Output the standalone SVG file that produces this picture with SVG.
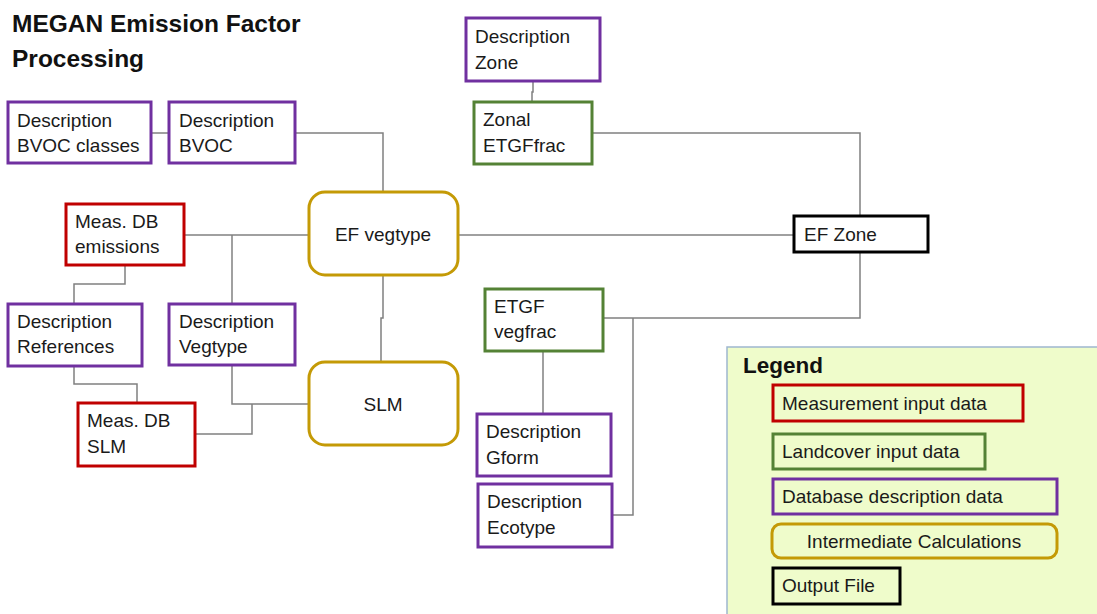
<svg xmlns="http://www.w3.org/2000/svg" width="1097" height="614" viewBox="0 0 1097 614">
<style>
text{font-family:"Liberation Sans",Arial,sans-serif;font-size:19px;fill:#1a1a1a}
.t{font-size:24.5px;font-weight:bold;fill:#111}
.lg{font-size:22.5px;font-weight:bold;fill:#111}
rect{fill:#fff;stroke-width:3}
.p{stroke:#7030a0}.r{stroke:#c00000}.g{stroke:#548235}.y{stroke:#c49a06}.k{stroke:#000}
#conn path{fill:none;stroke:#808080;stroke-width:1.5}
</style>
<rect x="0" y="0" width="1097" height="614" style="fill:#fff;stroke:none"/>
<text class="t" x="12" y="32">MEGAN Emission Factor</text>
<text class="t" x="12" y="67">Processing</text>
<g id="conn">
<path d="M151,133H169"/>
<path d="M295,133H383V192"/>
<path d="M184,235H309"/>
<path d="M232,235V303"/>
<path d="M125,265V284H74V303"/>
<path d="M74,366V384H137V403"/>
<path d="M232,365V404H309"/>
<path d="M195,434H252V404"/>
<path d="M383,275V318H381V362"/>
<path d="M458,235H793"/>
<path d="M533,82V92H532V102"/>
<path d="M592,133H860V215"/>
<path d="M860,252V318H603"/>
<path d="M633,318V515H612"/>
<path d="M543,351V414"/>
</g>
<g id="desc-bvoc-classes"><rect class="p" x="8" y="102" width="143" height="61"/><text x="17" y="127">Description</text><text x="17" y="152">BVOC classes</text></g>
<g id="desc-bvoc"><rect class="p" x="169" y="102" width="126" height="61"/><text x="179" y="127">Description</text><text x="179" y="152">BVOC</text></g>
<g id="meas-emissions"><rect class="r" x="66" y="204" width="118" height="61"/><text x="75" y="228">Meas. DB</text><text x="75" y="253">emissions</text></g>
<g id="ef-vegtype"><rect class="y" x="309" y="192" width="149" height="83" rx="16"/><text x="383" y="241" text-anchor="middle">EF vegtype</text></g>
<g id="desc-references"><rect class="p" x="8" y="304" width="134" height="62"/><text x="17" y="328">Description</text><text x="17" y="353">References</text></g>
<g id="desc-vegtype"><rect class="p" x="169" y="304" width="126" height="61"/><text x="179" y="328">Description</text><text x="179" y="353">Vegtype</text></g>
<g id="meas-slm"><rect class="r" x="78" y="403" width="117" height="63"/><text x="87" y="427">Meas. DB</text><text x="87" y="453">SLM</text></g>
<g id="slm"><rect class="y" x="309" y="362" width="149" height="83" rx="16"/><text x="383" y="411" text-anchor="middle">SLM</text></g>
<g id="desc-zone"><rect class="p" x="466" y="18" width="134" height="63"/><text x="475" y="43">Description</text><text x="475" y="69">Zone</text></g>
<g id="zonal-etgffrac"><rect class="g" x="474" y="102" width="118" height="62"/><text x="483" y="126">Zonal</text><text x="483" y="152">ETGFfrac</text></g>
<g id="ef-zone"><rect class="k" x="794" y="216" width="134" height="36"/><text x="804" y="241">EF Zone</text></g>
<g id="etgf-vegfrac"><rect class="g" x="485" y="289" width="118" height="62"/><text x="494" y="313">ETGF</text><text x="494" y="338">vegfrac</text></g>
<g id="desc-gform"><rect class="p" x="477" y="414" width="134" height="62"/><text x="486" y="438">Description</text><text x="486" y="464">Gform</text></g>
<g id="desc-ecotype"><rect class="p" x="478" y="484" width="134" height="63"/><text x="487" y="508">Description</text><text x="487" y="534">Ecotype</text></g>
<g id="legend">
<rect x="727" y="347" width="380" height="280" style="fill:#effccb;stroke:#9fb7cf;stroke-width:1.5"/>
<text class="lg" x="743" y="373">Legend</text>
<rect class="r" x="773" y="385" width="250" height="36" style="fill:none"/><text x="782" y="410">Measurement input data</text>
<rect class="g" x="773" y="434" width="212" height="35" style="fill:none"/><text x="782" y="458">Landcover input data</text>
<rect class="p" x="773" y="479" width="284" height="35" style="fill:none"/><text x="782" y="503">Database description data</text>
<rect class="y" x="772" y="524" width="285" height="34" rx="9" style="fill:none"/><text x="914" y="548" text-anchor="middle">Intermediate Calculations</text>
<rect class="k" x="773" y="568" width="127" height="36" style="fill:none"/><text x="782" y="592">Output File</text>
</g>
</svg>
